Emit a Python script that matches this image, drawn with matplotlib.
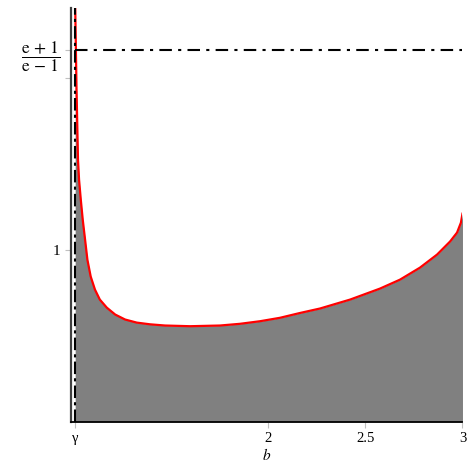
import matplotlib
matplotlib.use('Agg')
from matplotlib import pyplot as plt

plt.rcParams['font.family'] = ['Liberation Serif', 'DejaVu Serif']
plt.rcParams['mathtext.fontset'] = 'stix'

# Значения
gamma = 1.005
upper = 2.164  # (e+1)/(e-1)
b = [1.005, 1.012, 1.0195, 1.025, 1.034, 1.044, 1.056, 1.068, 1.085, 1.107,
     1.132, 1.168, 1.211, 1.262, 1.322, 1.391, 1.468, 1.597, 1.751, 1.854,
     1.957, 2.06, 2.163, 2.266, 2.421, 2.575, 2.678, 2.781, 2.869, 2.936,
     2.972, 2.992, 3.0]
y = [2.43, 1.932, 1.525, 1.409, 1.292, 1.176, 1.060, 0.943, 0.845, 0.769,
     0.711, 0.664, 0.624, 0.595, 0.577, 0.567, 0.560, 0.556, 0.560, 0.570,
     0.585, 0.605, 0.633, 0.659, 0.711, 0.775, 0.827, 0.897, 0.973, 1.049,
     1.101, 1.159, 1.211]
xticks = [gamma, 2, 2.5, 3]
xtick_labels = ['γ', '2', '2.5', '3']
yticks = [1, 2, upper]
ytick_labels = ['1', '', r'$\dfrac{\mathrm{e}\,+\,1}{\mathrm{e}\,-\,1}$']

ymin, ymax = 0.0, 2.409

fig = plt.figure(figsize=(4.74, 4.74), dpi=100)
ax = fig.add_axes([0.150, 0.1103, 0.8257, 0.873])

ax.fill_between(b, y, ymin, color='#808080', lw=0)
ax.plot(b, y, color='red', lw=1.6, solid_joinstyle='round')
ax.axvline(gamma, color='black', lw=1.5, ls=(0, (6, 2, 1.5, 2)))
ax.plot([gamma, 3.0], [upper, upper], color='black', lw=1.5, ls=(0, (6, 3, 1.5, 3)))

ax.set_xlim(0.984, 3.0)
ax.set_ylim(ymin, ymax)

for side in ['top', 'right']:
    ax.spines[side].set_visible(False)
ax.spines['left'].set_color('#404040')
ax.spines['left'].set_linewidth(1.6)
ax.spines['bottom'].set_color('black')
ax.spines['bottom'].set_linewidth(1.3)

ax.set_xticks(xticks)
ax.set_xticklabels(xtick_labels)
ax.set_yticks(yticks)
ax.set_yticklabels(ytick_labels)
ax.tick_params(axis='both', colors='#c0c0c0', labelcolor='black',
               length=4, width=0.8, labelsize=10.5)
ax.tick_params(axis='y', labelsize=11)
ax.get_yticklabels()[2].set_fontsize(12.5)

ax.set_xlabel('$b$', fontsize=11, labelpad=1)

fig.savefig('out.png', dpi=100)
